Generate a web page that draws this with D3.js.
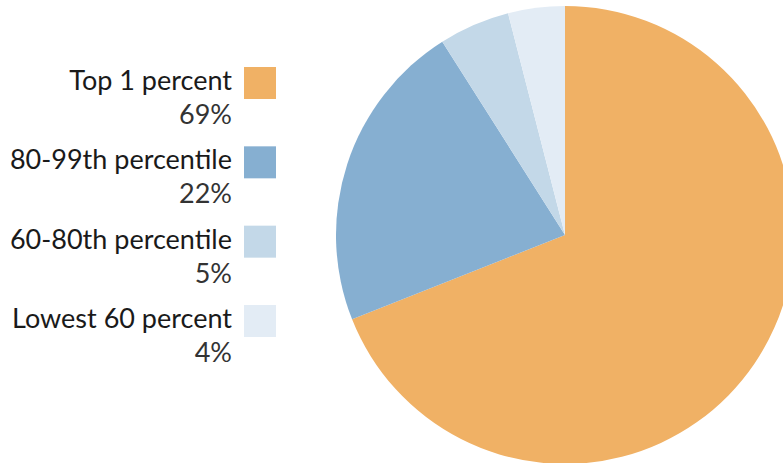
<!DOCTYPE html>
<html><head><meta charset="utf-8">
<script src="https://cdn.jsdelivr.net/npm/d3@7"></script>
<style>html,body{margin:0;padding:0;background:#fff;overflow:hidden}</style>
</head><body>
<svg id="c" width="783" height="463"></svg>
<script>
const categories = ["Top 1 percent", "80-99th percentile", "60-80th percentile", "Lowest 60 percent"];
const values = [69, 22, 5, 4];
const valueLabels = ["69%", "22%", "5%", "4%"];
const colors = ["#F0B165", "#86AFD1", "#C3D8E8", "#E3ECF5"];

const svg = d3.select("#c");
const cx = 565, cy = 235, r = 229;

const pie = d3.pie().sort(null).value(d => d)(values);
const arc = d3.arc().innerRadius(0).outerRadius(r);
svg.append("g").attr("transform", `translate(${cx},${cy})`)
  .selectAll("path").data(pie).join("path")
  .attr("d", arc).attr("fill", (d, i) => colors[i]);

const rowY = d3.scalePoint().domain(categories).range([67, 305]);
const lg = svg.append("g");
const rows = lg.selectAll("g").data(categories).join("g")
  .attr("transform", d => `translate(0,${rowY(d)})`);
rows.append("rect").attr("x", 244).attr("y", 0).attr("width", 32).attr("height", 32)
  .attr("fill", (d, i) => colors[i]);
rows.append("text").attr("x", 232).attr("y", 23).attr("text-anchor", "end")
  .attr("font-family", "Lato, sans-serif").attr("font-size", 27).attr("fill", "#1a1a1a")
  .text(d => d);
rows.append("text").attr("x", 232).attr("y", 57).attr("text-anchor", "end")
  .attr("font-family", "Lato, sans-serif").attr("font-size", 27).attr("fill", "#333")
  .text((d, i) => valueLabels[i]);
</script>
</body></html>
